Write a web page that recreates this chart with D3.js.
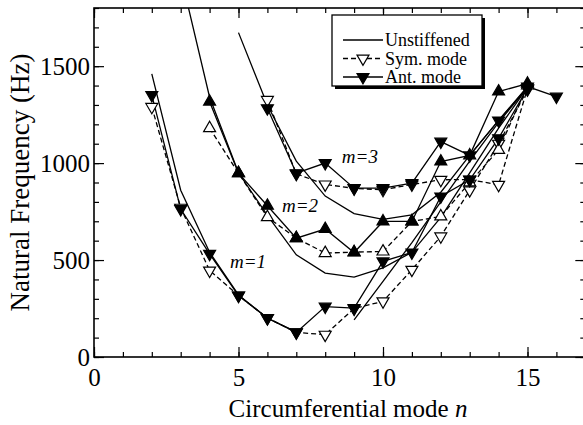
<!DOCTYPE html>
<html>
<head>
<meta charset="utf-8">
<script src="https://cdn.jsdelivr.net/npm/d3@7/dist/d3.min.js"></script>
<style>
  body { margin: 0; background: #fff; }
  svg { display: block; }
  text { font-family: "Liberation Serif", "Times New Roman", serif; fill: #000; }
</style>
</head>
<body>
<div id="chart"></div>
<script>
// circumferential mode numbers
var nUnst1 = [2, 3, 4, 5, 6, 7, 8, 9, 10, 11, 12, 13, 14, 15];
var nMode1 = [2, 3, 4, 5, 6, 7, 8, 9, 10, 11, 12, 13, 14, 15];
var nUnst2 = [3, 4, 5, 6, 7, 8, 9, 10, 11, 12, 13, 14, 15];
var nMode2 = [4, 5, 6, 7, 8, 9, 10, 11, 12, 13, 14, 15];
var nUnst3 = [5, 6, 7, 8, 9, 10, 11, 12, 13, 14, 15];
var nSym3 = [6, 7, 8, 9, 10, 11, 12, 13, 14, 15];
var nAnt3 = [6, 7, 8, 9, 10, 11, 12, 13, 14, 15, 16];

// natural frequencies (Hz), null = not drawn
var unst1 = [1460, 860, 540, 320, 200, 130, null, 192, 390, 590, 800, 1010, 1210, 1390];
var sym1 = [1290, 770, 446, 317, 201, 127, 115, 250, 287, 450, 622, 860, 1100, 1380];
var ant1 = [1351, 763, 532, 317, 201, 127, 260, 252, 493, 539, 828, 914, 1128, 1386];

var unst2 = [1970, 1340, 950, 730, 527, 433, 412, 460, 540, 720, 950, 1180, 1390];
var sym2 = [1180, 948, 721, 613, 536, 541, 544, 699, 725, 900, 1068, 1400];
var ant2 = [1317, 948, 780, 613, 660, 539, 699, 699, 1008, 1040, 1369, 1410];

var unst3 = [1673, 1300, 1010, 830, 740, 710, 733, 850, 1040, 1220, 1390];
var sym3 = [1326, 945, 890, 870, 862, 890, 914, 915, 888, 1385];
var ant3 = [1283, 948, 1000, 871, 871, 897, 1111, 1040, 1220, 1395, 1343];

var xTicks = [0, 5, 10, 15];
var yTicks = [0, 500, 1000, 1500];
var mLabels = [{ t: "m=1", n: 5.33, f: 460 }, { t: "m=2", n: 7.13, f: 749 }, { t: "m=3", n: 9.2, f: 1001 }];
var legendItems = ["Unstiffened", "Sym. mode", "Ant. mode"];

var W = 583, H = 425;
var margin = { top: 8, left: 94, bottom: 68 };

var x = d3.scaleLinear().domain([0, 17]).range([margin.left, margin.left + 17 * 28.9]);
var y = d3.scaleLinear().domain([0, 1800]).range([H - margin.bottom, margin.top]);

var svg = d3.select("#chart").append("svg")
    .attr("width", W)
    .attr("height", H);

svg.append("defs").append("clipPath").attr("id", "plotClip")
    .append("rect")
    .attr("x", x(0)).attr("y", y(1800))
    .attr("width", x(17) - x(0)).attr("height", y(0) - y(1800));

function zip(ns, fs) {
    return ns.map(function (n, i) { return { n: n, f: fs[i] }; });
}

var line = d3.line()
    .defined(function (d) { return d.f != null; })
    .x(function (d) { return x(d.n); })
    .y(function (d) { return y(d.f); });

var plot = svg.append("g").attr("clip-path", "url(#plotClip)");

// series: unstiffened (solid, no marker), sym (dashed, open), ant (solid, filled)
var series = [
    { d: zip(nUnst1, unst1), dash: null, marker: null },
    { d: zip(nUnst2, unst2), dash: null, marker: null },
    { d: zip(nUnst3, unst3), dash: null, marker: null },
    { d: zip(nMode1, sym1), dash: "5,3", marker: "down", fill: "#fff" },
    { d: zip(nMode2, sym2), dash: "5,3", marker: "up", fill: "#fff" },
    { d: zip(nSym3, sym3), dash: "5,3", marker: "down", fill: "#fff" },
    { d: zip(nMode1, ant1), dash: null, marker: "down", fill: "#000" },
    { d: zip(nMode2, ant2), dash: null, marker: "up", fill: "#000" },
    { d: zip(nAnt3, ant3), dash: null, marker: "down", fill: "#000" }
];

series.forEach(function (s) {
    plot.append("path")
        .attr("d", line(s.d))
        .attr("fill", "none")
        .attr("stroke", "#000")
        .attr("stroke-width", 1.3)
        .attr("stroke-dasharray", s.dash);
});

var tri = d3.symbol().type(d3.symbolTriangle).size(62);

series.forEach(function (s) {
    if (!s.marker) return;
    plot.selectAll(null)
        .data(s.d.filter(function (d) { return d.f != null; }))
        .enter().append("path")
        .attr("d", tri())
        .attr("transform", function (d) {
            return "translate(" + x(d.n) + "," + y(d.f) + ")" + (s.marker === "down" ? " rotate(180)" : "");
        })
        .attr("fill", s.fill)
        .attr("stroke", "#000")
        .attr("stroke-width", 1.2);
});

// m labels
svg.selectAll(".mlab")
    .data(mLabels)
    .enter().append("text")
    .attr("class", "mlab")
    .attr("x", function (d) { return x(d.n); })
    .attr("y", function (d) { return y(d.f); })
    .attr("text-anchor", "middle")
    .style("font-size", "19px")
    .style("font-style", "italic")
    .text(function (d) { return d.t; });

// axes: ticks point inward on all four sides
function styleAxis(g) {
    g.attr("font-family", null).attr("font-size", null);
    g.select(".domain").remove();
    g.selectAll("line").attr("stroke", "#000").attr("stroke-width", 1.2);
    g.selectAll("text").style("font-size", "25px");
}

svg.append("g").attr("transform", "translate(0," + y(0) + ")")
    .call(d3.axisBottom(x).tickValues(d3.range(0, 18)).tickSize(-5).tickFormat(""))
    .call(styleAxis);
svg.append("g").attr("transform", "translate(0," + y(0) + ")")
    .call(d3.axisBottom(x).tickValues(xTicks).tickSize(-10).tickPadding(11).tickFormat(d3.format("d")))
    .call(styleAxis);
svg.append("g").attr("transform", "translate(0," + y(1800) + ")")
    .call(d3.axisTop(x).tickValues(d3.range(0, 18)).tickSize(-5).tickFormat(""))
    .call(styleAxis);
svg.append("g").attr("transform", "translate(0," + y(1800) + ")")
    .call(d3.axisTop(x).tickValues(xTicks).tickSize(-10).tickFormat(""))
    .call(styleAxis);

svg.append("g").attr("transform", "translate(" + x(0) + ",0)")
    .call(d3.axisLeft(y).tickValues(d3.range(0, 1801, 100)).tickSize(-5).tickFormat(""))
    .call(styleAxis);
svg.append("g").attr("transform", "translate(" + x(0) + ",0)")
    .call(d3.axisLeft(y).tickValues(yTicks).tickSize(-10).tickPadding(4).tickFormat(d3.format("d")))
    .call(styleAxis);
svg.append("g").attr("transform", "translate(" + x(17) + ",0)")
    .call(d3.axisRight(y).tickValues(d3.range(0, 1801, 100)).tickSize(-5).tickFormat(""))
    .call(styleAxis);
svg.append("g").attr("transform", "translate(" + x(17) + ",0)")
    .call(d3.axisRight(y).tickValues(yTicks).tickSize(-10).tickFormat(""))
    .call(styleAxis);

// frame
svg.append("rect")
    .attr("x", x(0)).attr("y", y(1800))
    .attr("width", x(17) - x(0)).attr("height", y(0) - y(1800))
    .attr("fill", "none").attr("stroke", "#000").attr("stroke-width", 1.6);

// axis titles
var xt = svg.append("text")
    .attr("x", 348).attr("y", 417)
    .attr("text-anchor", "middle")
    .style("font-size", "25px");
xt.append("tspan").text("Circumferential mode ");
xt.append("tspan").style("font-style", "italic").text("n");

svg.append("text")
    .attr("transform", "translate(29," + ((y(0) + y(1800)) / 2) + ") rotate(-90)")
    .attr("text-anchor", "middle")
    .style("font-size", "27px")
    .text("Natural Frequency (Hz)");

// legend with drop shadow
var lg = svg.append("g").attr("transform", "translate(332,15)");
lg.append("rect").attr("x", 3).attr("y", 3).attr("width", 150).attr("height", 71).attr("fill", "#000");
lg.append("rect").attr("width", 150).attr("height", 71).attr("fill", "#fff").attr("stroke", "#000").attr("stroke-width", 1.3);

var legendStyle = [
    { dash: null, marker: null, fill: null },
    { dash: "5,3", marker: "down", fill: "#fff" },
    { dash: null, marker: "down", fill: "#000" }
];

legendItems.forEach(function (name, i) {
    var row = lg.append("g").attr("transform", "translate(0," + (25 + i * 18.5) + ")");
    row.append("line")
        .attr("x1", 11).attr("x2", 51)
        .attr("stroke", "#000").attr("stroke-width", 1.3)
        .attr("stroke-dasharray", legendStyle[i].dash);
    if (legendStyle[i].marker) {
        row.append("path")
            .attr("d", tri())
            .attr("transform", "translate(31,0) rotate(180)")
            .attr("fill", legendStyle[i].fill)
            .attr("stroke", "#000").attr("stroke-width", 1.2);
    }
    row.append("text")
        .attr("x", 53).attr("y", 6)
        .style("font-size", "18px")
        .text(name);
});
</script>
</body>
</html>
